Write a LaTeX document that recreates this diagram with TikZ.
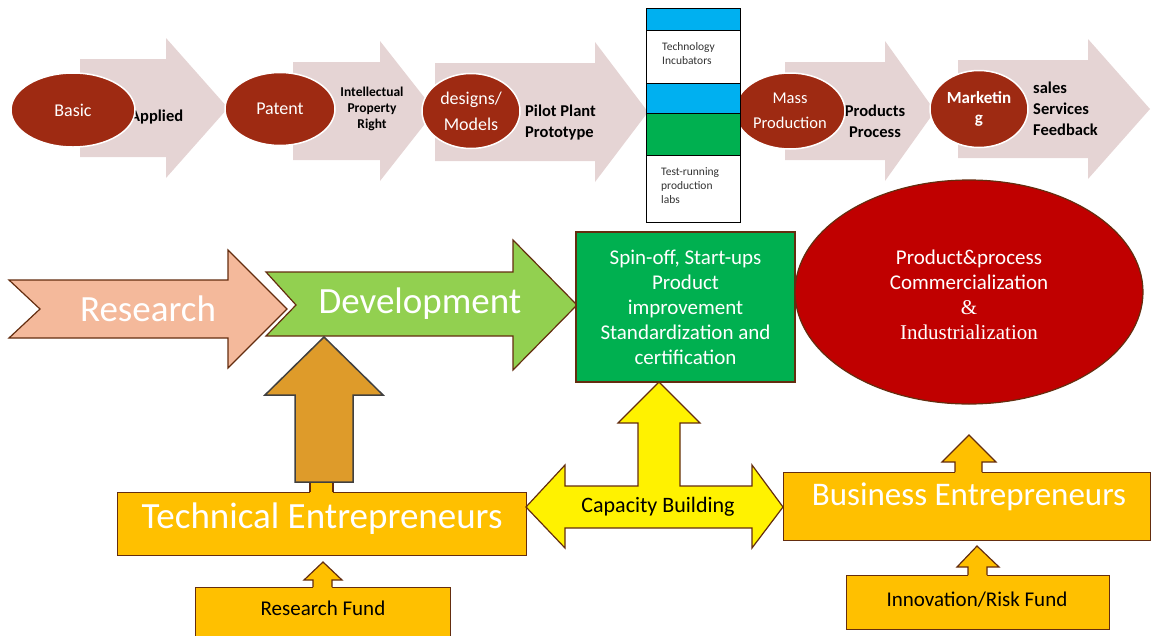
\documentclass[tikz,border=0pt]{standalone}
\usepackage{fontspec}
\setmainfont{Carlito}
\newfontfamily\timesfont{Liberation Serif}
\usetikzlibrary{shapes.geometric,positioning}

\definecolor{stagepink}{RGB}{229,212,212}
\definecolor{ovalred}{RGB}{158,42,18}
\definecolor{salmon}{RGB}{244,185,155}
\definecolor{leafgreen}{RGB}{146,208,80}
\definecolor{boxgreen}{RGB}{0,176,80}
\definecolor{deepred}{RGB}{192,0,0}
\definecolor{amber}{RGB}{255,192,0}
\definecolor{ochre}{RGB}{222,155,42}
\definecolor{edgebrown}{RGB}{100,45,15}
\definecolor{skyblue}{RGB}{0,176,240}

% pale stage arrow: left end, head base, tip, centre line
\newcommand{\stagearrow}[4]{%
  \fill[stage] (#1,#4-49) -- (#2,#4-49) -- (#2,#4-70) -- (#3,#4)
    -- (#2,#4+70) -- (#2,#4+49) -- (#1,#4+49) -- cycle;}

\begin{document}
\begin{tikzpicture}[x=1pt, y=-1pt,
    stage/.style={fill=stagepink},
    oval/.style={ellipse, fill=ovalred, draw=white, line width=1.5pt, text=white,
      inner sep=0pt, align=center, font=\fontsize{18}{26}\selectfont},
    stagetext/.style={inner sep=0pt, font=\bfseries\fontsize{16.5}{21}\selectfont},
    block/.style={draw=edgebrown, line width=1.2pt},
    bigword/.style={text=white, inner sep=0pt, font=\fontsize{37}{44}\selectfont},
    fundtext/.style={inner sep=0pt, font=\fontsize{21}{25}\selectfont}]

    \useasboundingbox (0,0) rectangle (1151,635);

    % stages along the top
    \stagearrow{80}{166}{228}{108}
    \stagearrow{293}{380}{435}{111}
    \stagearrow{435}{595}{648}{112}
    \stagearrow{785}{885}{935}{111}
    \stagearrow{958}{1088}{1150}{109}

    \node[stagetext, anchor=west] (applied) at (130,117) {Applied};
    \node[stagetext, font=\bfseries\fontsize{13.5}{16}\selectfont, align=center] (ipr) at (372,109) {Intellectual\\Property\\Right};
    \node[stagetext, anchor=west, align=left] (pilot) at (525,123) {Pilot Plant\\Prototype};
    \node[stagetext, align=center] (products) at (875,121) {Products\\Process};
    \node[stagetext, anchor=west, align=left] (sales) at (1033,109) {sales\\Services\\Feedback};

    \node[oval, minimum width=124, minimum height=74] (basic) at (73,110) {Basic};
    \node[oval, minimum width=110, minimum height=73] (patent) at (280,109) {Patent};
    \node[oval, minimum width=98, minimum height=75] (designs) at (471,111) {designs/\\Models};
    \node[oval, minimum width=110, minimum height=76, font=\fontsize{16.5}{25}\selectfont] (mass) at (790,111) {Mass\\Production};
    \node[oval, minimum width=98, minimum height=77, font=\bfseries\fontsize{17}{20}\selectfont] (marketing) at (979,109) {Marketin\\g};

    % incubator column
    \draw[line width=1pt, fill=skyblue] (646,8) rectangle (740,30);
    \draw[line width=1pt, fill=white] (646,30) rectangle (740,83);
    \draw[line width=1pt, fill=skyblue] (646,83) rectangle (740,113);
    \draw[line width=1pt, fill=boxgreen] (646,113) rectangle (740,155);
    \draw[line width=1pt, fill=white] (646,155) rectangle (740,222);
    \node[anchor=west, align=left, inner sep=0pt, text=black!80, font=\fontsize{11.5}{14}\selectfont] (incubators) at (662,54) {Technology\\Incubators};
    \node[anchor=west, align=left, inner sep=0pt, text=black!80, font=\fontsize{11.5}{14}\selectfont] (labs) at (661,186) {Test-running\\production\\labs};

    % research and development
    \draw[block, fill=salmon] (9,280) -- (228,280) -- (228,250) -- (287,309) -- (228,368)
        -- (228,338) -- (9,338) -- (40,309) -- cycle;
    \node[bigword] (research) at (148,309) {Research};

    \draw[block, fill=leafgreen] (266,272) -- (513,272) -- (513,240) -- (577,305) -- (513,370)
        -- (513,336) -- (266,336) -- (296,305) -- cycle;
    \node[bigword] (development) at (420,304) {Development};

    \node[block, fill=boxgreen, minimum width=219, minimum height=150, text=white, align=center,
        font=\fontsize{21}{25}\selectfont] (spinoff) at (685.5,307)
        {Spin-off, Start-ups\\Product\\improvement\\Standardization and\\certification};

    \node[ellipse, block, fill=deepred, minimum width=348, minimum height=224, inner sep=0pt] (commercial) at (969,292) {};
    \node[text=white, align=center, inner sep=0pt, font=\fontsize{21}{25}\selectfont] (commtext) at (969,295)
        {Product\&process\\Commercialization\\{\timesfont\&}\\{\timesfont Industrialization}};

    % technical entrepreneurs
    \node[block, fill=amber, minimum width=409, minimum height=63, anchor=north west] (tech) at (117,492) {};
    \node[bigword] (techtext) at ([yshift=5pt]tech.center) {Technical Entrepreneurs};
    \fill[amber] (310,480) rectangle (333,493.5);
    \draw[edgebrown, line width=1.2pt] (310,480) -- (310,492) (333,480) -- (333,492);
    \draw[line width=1.5pt, draw=black!75, fill=ochre] (324,337) -- (383,395) -- (353,395) -- (353,482)
        -- (295,482) -- (295,395) -- (265,395) -- cycle;

    \node[block, fill=amber, minimum width=255, minimum height=60, anchor=north west] (rfund) at (195,587) {};
    \node[fundtext] (rfundtext) at (323,608) {Research Fund};
    \fill[amber] (313,589) -- (313,580) -- (304,580) -- (323,562) -- (342,580) -- (332,580) -- (332,589) -- cycle;
    \draw[edgebrown, line width=1.2pt] (313,587) -- (313,580) -- (304,580) -- (323,562) -- (342,580) -- (332,580) -- (332,587);

    % capacity building
    \draw[block, fill=yellow] (526,507) -- (565,465) -- (565,486) -- (638,486) -- (638,423) -- (618,423)
        -- (659,382) -- (700,423) -- (680,423) -- (680,486) -- (752,486) -- (752,465) -- (783,507)
        -- (752,548) -- (752,528) -- (565,528) -- (565,548) -- cycle;
    \node[inner sep=0pt, font=\fontsize{22}{26}\selectfont] (capacity) at (658,507) {Capacity Building};

    % business entrepreneurs
    \node[block, fill=amber, minimum width=367, minimum height=68, anchor=north west] (business) at (783,472) {};
    \node[bigword, font=\fontsize{33}{40}\selectfont] (businesstext) at (969,497) {Business Entrepreneurs};
    \fill[amber] (955,474) -- (955,462) -- (942,462) -- (969,435) -- (996,462) -- (982,462) -- (982,474) -- cycle;
    \draw[edgebrown, line width=1.2pt] (955,472) -- (955,462) -- (942,462) -- (969,435) -- (996,462) -- (982,462) -- (982,472);

    \node[block, fill=amber, minimum width=263, minimum height=54, anchor=north west] (ifund) at (846,575) {};
    \node[fundtext] (ifundtext) at (977,600) {Innovation/Risk Fund};
    \fill[amber] (968,577) -- (968,567) -- (957,567) -- (977,546) -- (999,567) -- (987,567) -- (987,577) -- cycle;
    \draw[edgebrown, line width=1.2pt] (968,575) -- (968,567) -- (957,567) -- (977,546) -- (999,567) -- (987,567) -- (987,575);

\end{tikzpicture}
\end{document}
